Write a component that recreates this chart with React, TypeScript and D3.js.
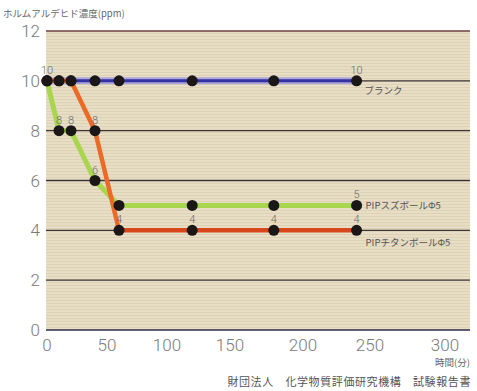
import * as d3 from 'd3';

// time in minutes
const times = [0, 10, 20, 40, 60, 120, 180, 240];
const blank = [10, 10, 10, 10, 10, 10, 10, 10];
const tinBall = [10, 8, 8, 6, 5, 5, 5, 5];
const titaniumBall = [10, 10, 10, 8, 4, 4, 4, 4];

// which points carry a value label
const blankLabelIdx = [0, 7];
const tinLabelIdx = [1, 2, 3, 7];
const titaniumLabelIdx = [3, 4, 5, 6, 7];

const xTicks = [0, 50, 100, 150, 200, 250, 300];
const yTicks = [0, 2, 4, 6, 8, 10, 12];

const seriesNames = ['ブランク', 'PIPスズボールΦ5', 'PIPチタンボールΦ5'];
const yTitle = 'ホルムアルデヒド濃度(ppm)';
const xTitle = '時間(分)';
const source = '財団法人　化学物質評価研究機構　試験報告書';

const W = 477;
const H = 391;
const cjk = '"Noto Sans CJK JP", "Noto Sans", sans-serif';
const num = 'Roboto, "Liberation Sans", Arial, sans-serif';

export default function App() {
  const plotLeft = 46;
  const plotRight = 470;
  // the printed axis is not evenly spaced, so follow its tick positions
  const x = d3.scaleLinear()
    .domain(xTicks)
    .range([47, 107, 167, 230, 303, 370, 445]);
  const y = d3.scaleLinear().domain([0, 12]).range([330, 31]);

  const line = d3.line<number>()
    .x((_, i) => x(times[i]))
    .y(d => y(d));

  const points = (vals: number[]) => vals.map((v, i) => ({ t: times[i], v }));

  const labels = [
    ...blankLabelIdx.map(i => ({ t: times[i], v: blank[i] })),
    ...tinLabelIdx.map(i => ({ t: times[i], v: tinBall[i] })),
    ...titaniumLabelIdx.map(i => ({ t: times[i], v: titaniumBall[i] })),
  ];

  const lastT = times[times.length - 1];
  const gridColor = (t: number) => (t === 12 ? '#6e4040' : t === 0 ? '#2c2c48' : '#3c3636');

  return (
    <svg width={W} height={H} style={{ position: 'absolute', left: 0, top: 0, background: '#fff' }}>
      <defs>
        <pattern id="stripes" width="4" height="3" patternUnits="userSpaceOnUse">
          <rect width="4" height="3" fill="#e8ddc5" />
          <rect y="0" width="4" height="1" fill="#ddd1b6" />
        </pattern>
      </defs>

      {/* plot area */}
      <rect x={plotLeft} y={y(12)} width={plotRight - plotLeft} height={y(0) - y(12)} fill="url(#stripes)" />

      {/* gridlines */}
      {yTicks.map(t => (
        <line key={t} x1={plotLeft} x2={plotRight} y1={y(t)} y2={y(t)} stroke={gridColor(t)} strokeWidth={1.3} />
      ))}

      {/* y axis labels */}
      {yTicks.map(t => (
        <text key={t} x={40} y={y(t) + 6} textAnchor="end" fontFamily={num} fontWeight={300} fontSize={17} fill="#7a7a7a">{t}</text>
      ))}

      {/* x axis labels */}
      {xTicks.map(t => (
        <text key={t} x={x(t)} y={351} textAnchor="middle" fontFamily={num} fontWeight={300} fontSize={17} fill="#7a7a7a">{t}</text>
      ))}

      {/* blank */}
      <path d={line(blank) || ''} fill="none" stroke="#aaa4d8" strokeWidth={7} />
      <path d={line(blank) || ''} fill="none" stroke="#3432a2" strokeWidth={3} />
      {/* tin */}
      <path d={line(tinBall) || ''} fill="none" stroke="#a8d64c" strokeWidth={5} />
      {/* titanium */}
      <path d={line(titaniumBall.slice(0, 5)) || ''} fill="none" stroke="#ec6a26" strokeWidth={4.5} />
      <path
        d={d3.line<{ t: number; v: number }>().x(d => x(d.t)).y(d => y(d.v))(points(titaniumBall).slice(4)) || ''}
        fill="none" stroke="#d8461c" strokeWidth={4.5}
      />

      {/* markers */}
      {[blank, tinBall, titaniumBall].map((s, si) =>
        points(s).map((p, i) => (
          <circle key={`${si}-${i}`} cx={x(p.t)} cy={y(p.v)} r={5.5} fill="#1b1717" />
        ))
      )}

      {/* value labels */}
      {labels.map((p, i) => (
        <text key={i} x={x(p.t)} y={y(p.v) - 7} textAnchor="middle" fontFamily={num} fontWeight={300} fontSize={11} fill="#6a6a6a">{p.v}</text>
      ))}

      {/* series names */}
      <text x={x(lastT) + 8} y={y(blank[7]) + 13} fontFamily={cjk} fontSize={9.5} fill="#555">{seriesNames[0]}</text>
      <text x={x(lastT) + 9} y={y(tinBall[7]) + 4} fontFamily={cjk} fontSize={9.5} fill="#555">{seriesNames[1]}</text>
      <text x={x(lastT) + 9} y={y(titaniumBall[7]) + 16} fontFamily={cjk} fontSize={9.5} fill="#555">{seriesNames[2]}</text>

      {/* titles */}
      <text x={3} y={17} fontFamily={cjk} fontSize={9.5} fill="#666">{yTitle}</text>
      <text x={470} y={366} textAnchor="end" fontFamily={cjk} fontSize={9.5} fill="#666">{xTitle}</text>
      <text x={471} y={386} textAnchor="end" fontFamily={cjk} fontSize={11} letterSpacing={0.6} fill="#555">{source}</text>
    </svg>
  );
}
